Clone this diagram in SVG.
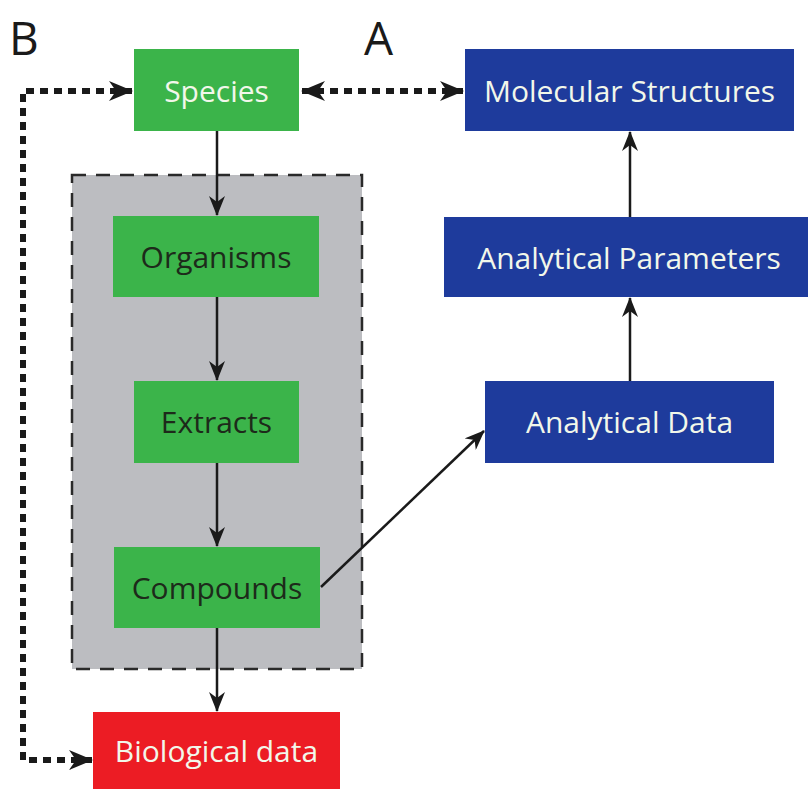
<svg xmlns="http://www.w3.org/2000/svg" width="808" height="789" viewBox="0 0 808 789">
<defs>
<marker id="ah" viewBox="0 0 20 16" refX="19" refY="8" markerWidth="20" markerHeight="16" markerUnits="userSpaceOnUse" orient="auto-start-reverse">
<path d="M0,0 L20,8 L0,16 L6,8 Z" fill="#1a1a1a"/>
</marker>
<marker id="ahd" viewBox="0 0 24 20" refX="23" refY="10" markerWidth="24" markerHeight="20" markerUnits="userSpaceOnUse" orient="auto-start-reverse">
<path d="M0,0 L24,10 L0,20 L7,10 Z" fill="#1a1a1a"/>
</marker>
<style>
.lbl{font-family:"Open Sans","Liberation Sans",sans-serif;font-size:30px;text-anchor:middle;dominant-baseline:central}
.light{fill:#f2f7ea}
.dark{fill:#1d2a1a}
.green{fill:#3bb44a}
.blue{fill:#1e3b9c}
.red{fill:#ec1c24}
.solid{stroke:#1a1a1a;stroke-width:2.5;fill:none;marker-end:url(#ah)}
.dotted{stroke:#1a1a1a;stroke-width:6;fill:none;stroke-dasharray:8 6}
.big{font-family:"Open Sans","Liberation Sans",sans-serif;font-size:46px;fill:#1a1a1a}
</style>
</defs>
<rect width="808" height="789" fill="#ffffff"/>
<text class="big" x="9" y="55">B</text>
<text class="big" x="364" y="55">A</text>
<g id="group-box">
<rect x="72" y="175" width="290" height="494" fill="#bcbdc1" stroke="#2a2a2a" stroke-width="2.5" stroke-dasharray="14 10"/>
</g>
<g id="connectors">
<line class="solid" x1="217" y1="131" x2="217" y2="215"/>
<line class="solid" x1="217" y1="297" x2="217" y2="380"/>
<line class="solid" x1="217" y1="463" x2="217" y2="546"/>
<line class="solid" x1="217" y1="628" x2="217" y2="711"/>
<line class="solid" x1="321" y1="587" x2="484" y2="431"/>
<line class="solid" x1="630" y1="381" x2="630" y2="298"/>
<line class="solid" x1="630" y1="217" x2="630" y2="132"/>
<path class="dotted" d="M302,91 H463" marker-start="url(#ahd)" marker-end="url(#ahd)"/>
<path class="dotted" d="M132,91 H23 V760 H92" marker-start="url(#ahd)" marker-end="url(#ahd)"/>
</g>
<g id="species">
<rect class="green" x="134" y="49" width="165" height="82"/>
<text class="lbl light" x="216.5" y="90">Species</text>
</g>
<g id="organisms">
<rect class="green" x="113" y="216" width="206" height="81"/>
<text class="lbl dark" x="216" y="256">Organisms</text>
</g>
<g id="extracts">
<rect class="green" x="134" y="381" width="165" height="82"/>
<text class="lbl dark" x="216.5" y="421">Extracts</text>
</g>
<g id="compounds">
<rect class="green" x="114" y="547" width="206" height="81"/>
<text class="lbl dark" x="217" y="587">Compounds</text>
</g>
<g id="biological-data">
<rect class="red" x="93" y="712" width="247" height="80"/>
<text class="lbl light" x="216.5" y="750">Biological data</text>
</g>
<g id="molecular-structures">
<rect class="blue" x="465" y="49" width="329" height="82"/>
<text class="lbl light" x="629.5" y="90">Molecular Structures</text>
</g>
<g id="analytical-parameters">
<rect class="blue" x="444" y="217" width="364" height="80"/>
<text class="lbl light" x="629" y="257">Analytical Parameters</text>
</g>
<g id="analytical-data">
<rect class="blue" x="485" y="381" width="289" height="82"/>
<text class="lbl light" x="629.5" y="421">Analytical Data</text>
</g>
</svg>
